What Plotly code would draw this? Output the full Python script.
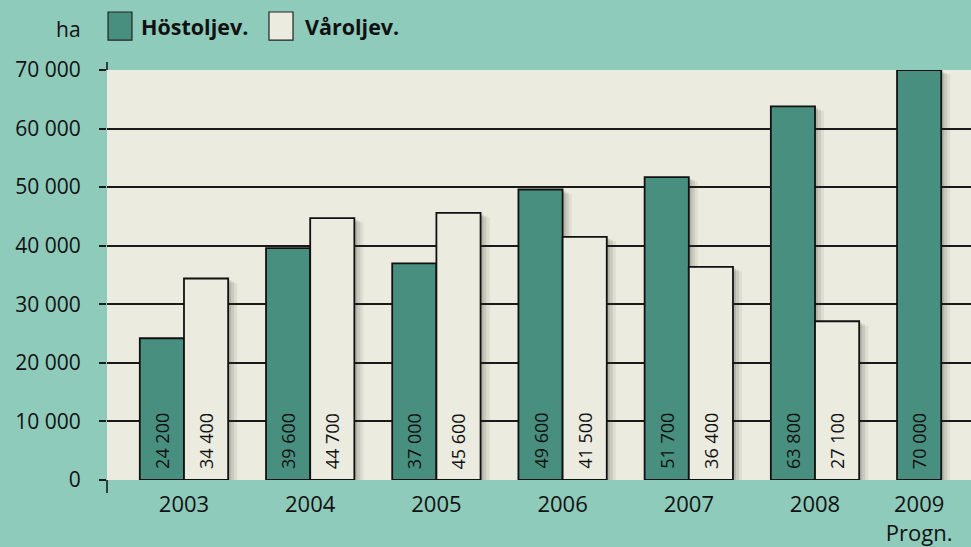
import plotly.graph_objects as go

years = [2003, 2004, 2005, 2006, 2007, 2008, 2009]
year_labels = ["2003", "2004", "2005", "2006", "2007", "2008", "2009<br>Progn."]
host = [24200, 39600, 37000, 49600, 51700, 63800, 70000]
var = [34400, 44700, 45600, 41500, 36400, 27100, None]
host_txt = ["24 200", "39 600", "37 000", "49 600", "51 700", "63 800", "70 000"]
var_txt = ["34 400", "44 700", "45 600", "41 500", "36 400", "27 100", ""]
y_ticks = [0, 10000, 20000, 30000, 40000, 50000, 60000, 70000]
y_tick_labels = ["0", "10 000", "20 000", "30 000", "40 000", "50 000", "60 000", "70 000"]

BG = "#8ecbbb"
PLOT_BG = "#ebebdf"
DARK = "#488f7f"
LIGHT = "#ebebdf"
FONT = "Open Sans"
W = 0.35  # bar width in category units
PX = 126.2  # pixels per category unit (approx)

fig = go.Figure()

# soft shadows (drawn first)
for k, a in [(3, 0.13), (6, 0.10), (9, 0.07)]:
    dx = k / PX
    fig.add_trace(go.Bar(x=years, y=[v - 250 * k / 3 for v in host], offset=-W + dx, width=W,
                         marker=dict(color=f"rgba(40,40,30,{a})", line=dict(width=0)),
                         hoverinfo="skip", showlegend=False))
    fig.add_trace(go.Bar(x=years, y=[(v - 250 * k / 3) if v else None for v in var], offset=dx, width=W,
                         marker=dict(color=f"rgba(40,40,30,{a})", line=dict(width=0)),
                         hoverinfo="skip", showlegend=False))

fig.add_trace(go.Bar(x=years, y=host, offset=-W, width=W, name="Höstoljev.",
                     marker=dict(color=DARK, line=dict(color="#111", width=1.8)), showlegend=False))
fig.add_trace(go.Bar(x=years, y=var, offset=0, width=W, name="Våroljev.",
                     marker=dict(color=LIGHT, line=dict(color="#111", width=1.8)), showlegend=False))

ann = []
for x, t in zip(years, host_txt):
    ann.append(dict(x=x - W / 2, y=0, text=t, textangle=-90, showarrow=False, xref="x", yref="y",
                    yanchor="bottom", xanchor="center", yshift=9,
                    font=dict(family=FONT, size=18, color="#111")))
for x, t in zip(years, var_txt):
    if t:
        ann.append(dict(x=x + W / 2, y=0, text=t, textangle=-90, showarrow=False, xref="x", yref="y",
                        yanchor="bottom", xanchor="center", yshift=9,
                        font=dict(family=FONT, size=18, color="#111")))

# unit label and manual legend
ann.append(dict(x=-0.028, y=1.10, xref="paper", yref="paper", text="ha", showarrow=False,
                xanchor="right", yanchor="middle", font=dict(family=FONT, size=21, color="#111")))
ann.append(dict(x=0.037, y=1.105, xref="paper", yref="paper", text="<b>Höstoljev.</b>", showarrow=False,
                xanchor="left", yanchor="middle", font=dict(family=FONT, size=21.5, color="#111")))
ann.append(dict(x=0.227, y=1.105, xref="paper", yref="paper", text="<b>Våroljev.</b>", showarrow=False,
                xanchor="left", yanchor="middle", font=dict(family=FONT, size=21.5, color="#111")))

shapes = [
    dict(type="rect", xref="paper", yref="paper", x0=0.0012, x1=0.0289, y0=1.073, y1=1.1415,
         fillcolor=DARK, line=dict(color="#222", width=1.2)),
    dict(type="rect", xref="paper", yref="paper", x0=0.1875, x1=0.2153, y0=1.073, y1=1.1415,
         fillcolor=LIGHT, line=dict(color="#222", width=1.2)),
    dict(type="line", xref="paper", yref="paper", x0=0, x1=0, y0=-13 / 410, y1=0,
         line=dict(color="#111", width=1.5)),
    dict(type="line", xref="paper", yref="paper", x0=0, x1=0, y0=1, y1=1 + 8 / 410,
         line=dict(color="#111", width=1.5)),
]

tickvals = [y if i < len(years) - 1 else y - W / 2 for i, y in enumerate(years)]

fig.update_layout(
    width=971, height=547,
    paper_bgcolor=BG, plot_bgcolor=PLOT_BG,
    margin=dict(l=107, r=0, t=70, b=67),
    barmode="overlay",
    annotations=ann, shapes=shapes,
    font=dict(family=FONT, color="#111"),
    xaxis=dict(range=[2002.39, 2009.236], tickvals=tickvals, ticktext=year_labels,
               showgrid=False, zeroline=False, showline=False, ticks="",
               tickfont=dict(family=FONT, size=22, color="#111"), ticklabelstandoff=9),
    yaxis=dict(range=[0, 70000], tickvals=y_ticks, ticktext=y_tick_labels,
               showgrid=True, gridcolor="#1a1a1a", gridwidth=1.5, zeroline=False, showline=False,
               ticks="outside", ticklen=7, tickwidth=1.5, tickcolor="#1a1a1a",
               tickfont=dict(family=FONT, size=21, color="#111"), ticklabelstandoff=14),
)

fig.write_html("out.html", config={"displayModeBar": False},
               post_script="document.body.style.margin='0';document.body.style.padding='0';")
